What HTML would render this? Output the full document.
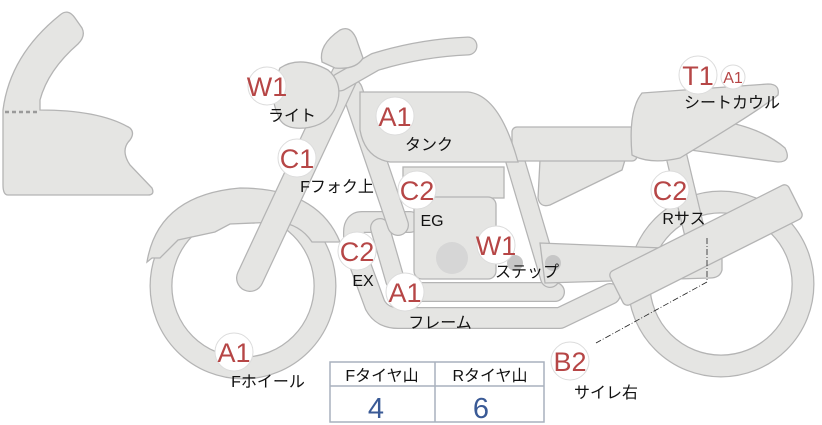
<!DOCTYPE html>
<html><head><meta charset="utf-8"><style>
html,body{margin:0;padding:0;background:#fff;width:822px;height:425px;overflow:hidden}
svg{display:block}
.s{fill:#e5e5e3;stroke:#b4b4b4;stroke-width:1.3}
.to{fill:none;stroke:#b4b4b4;stroke-linecap:round;stroke-linejoin:round}
.ti{fill:none;stroke:#e5e5e3;stroke-linecap:round;stroke-linejoin:round}
.c{fill:#fff;stroke:#dcdcdc;stroke-width:1}
.code{font-family:"Liberation Sans",sans-serif;fill:#b64646;text-anchor:middle}
.lb{font-family:"Liberation Sans","Noto Sans CJK JP",sans-serif;font-size:16px;fill:#111;text-anchor:middle}
</style></head><body>
<svg width="822" height="425" viewBox="0 0 822 425" xmlns="http://www.w3.org/2000/svg">
<path class="s" d="M60,15 Q68,8 75,18 L82,28 Q86,36 78,44 Q48,70 40,100 L40,110 Q100,110 130,128 Q135,133 130,140 Q120,150 130,165 L152,188 Q155,195 148,195 L8,195 Q3,195 3,185 L3,110 Q10,55 60,15 Z"/>
<line x1="5" y1="112" x2="38" y2="112" stroke="#9a9a9a" stroke-width="2.5" stroke-dasharray="4,3"/>
<circle cx="243" cy="286" r="82" fill="none" stroke="#b4b4b4" stroke-width="23"/>
<circle cx="243" cy="286" r="82" fill="none" stroke="#e5e5e3" stroke-width="20.5"/>
<path class="s" d="M147,262 Q158,195 240,188 Q318,188 340,242 L312,242 Q300,224 278,222 L230,224 L215,232 L178,240 L160,258 L152,258 Z"/>
<circle cx="721" cy="284" r="82" fill="none" stroke="#b4b4b4" stroke-width="23"/>
<circle cx="721" cy="284" r="82" fill="none" stroke="#e5e5e3" stroke-width="20.5"/>
<path class="to" stroke-width="22" d="M410,222 H362 Q354,222 354,232 V248 L375,305 Q382,318 398,318 H560 L610,294"/>
<path class="ti" stroke-width="19.5" d="M410,222 H362 Q354,222 354,232 V248 L375,305 Q382,318 398,318 H560 L610,294"/>
<path class="to" stroke-width="20" d="M380,228 L395,280 Q400,292 412,292 H555"/>
<path class="ti" stroke-width="17.5" d="M380,228 L395,280 Q400,292 412,292 H555"/>
<path class="to" stroke-width="22" d="M352,90 L398,225"/>
<path class="ti" stroke-width="19.5" d="M352,90 L398,225"/>
<path class="to" stroke-width="20" d="M512,150 L550,278"/>
<path class="ti" stroke-width="17.5" d="M512,150 L550,278"/>
<path class="to" stroke-width="22" d="M675,150 L700,255"/>
<path class="ti" stroke-width="19.5" d="M675,150 L700,255"/>
<rect class="s" x="403" y="167" width="101" height="31"/>
<rect class="s" x="414" y="197" width="82" height="82" rx="8"/>
<circle cx="452" cy="258" r="16" fill="#d6d6d6"/>
<path class="s" d="M540,243 L712,250 Q722,252 722,260 L722,270 Q720,278 710,278 L545,283 Z"/>
<circle cx="515" cy="263" r="8" fill="#c6c6c6"/>
<circle cx="553" cy="263" r="8" fill="#c6c6c6"/>
<g transform="rotate(-26.7 706 245)"><rect class="s" x="606" y="226" width="200" height="38" rx="5"/></g>
<path class="s" d="M540,160 L625,160 L622,170 L550,205 Q540,208 538,198 Z"/>
<rect class="s" x="512" y="127" width="125" height="34" rx="5"/>
<path class="s" d="M695,118 Q755,122 785,148 Q792,162 778,162 L690,150 Z"/>
<path class="s" d="M642,93 L768,84 Q780,84 778,95 Q760,110 680,158 Q650,165 632,155 Q628,110 642,93 Z"/>
<path class="s" d="M360,92 L468,92 Q498,95 516,155 L518,162 L390,162 Q365,158 360,130 Z"/>
<path class="to" stroke-width="28" d="M345,75 L250,278"/>
<path class="ti" stroke-width="25.5" d="M345,75 L250,278"/>
<path class="to" stroke-width="19" d="M340,82 L375,62 Q420,48 468,46"/>
<path class="ti" stroke-width="16.5" d="M340,82 L375,62 Q420,48 468,46"/>
<path class="s" d="M280,68 Q300,55 328,70 Q342,82 338,100 Q332,125 305,128 Q282,130 278,115 Q268,95 280,68 Z"/>
<path class="s" d="M340,30 Q350,25 356,38 L363,58 Q356,70 335,68 L322,62 Q318,45 340,30 Z"/>
<path d="M707,238 V282 L596,343" fill="none" stroke="#222" stroke-width="0.8" stroke-dasharray="6,2,1,2"/>
<rect x="330" y="362" width="214" height="60" fill="#fff" stroke="#a9b1bd" stroke-width="1.5"/>
<line x1="330" y1="386" x2="544" y2="386" stroke="#a9b1bd" stroke-width="1.5"/>
<line x1="435" y1="362" x2="435" y2="422" stroke="#a9b1bd" stroke-width="1.5"/>
<text class="lb" x="382" y="381">Fタイヤ山</text>
<text class="lb" x="490" y="381">Rタイヤ山</text>
<text x="376" y="418" font-family="Liberation Sans,sans-serif" font-size="29" fill="#3a5a96" text-anchor="middle">4</text>
<text x="481" y="418" font-family="Liberation Sans,sans-serif" font-size="29" fill="#3a5a96" text-anchor="middle">6</text>
<g>
<circle class="c" cx="267" cy="86" r="19"/><text class="code" x="267" y="96" font-size="27">W1</text><text class="lb" x="292" y="121">ライト</text>
<circle class="c" cx="395" cy="116" r="19"/><text class="code" x="395" y="126" font-size="27">A1</text><text class="lb" x="429" y="150">タンク</text>
<circle class="c" cx="297" cy="158" r="19"/><text class="code" x="297" y="168" font-size="27">C1</text><text class="lb" x="337" y="192">Fフォク上</text>
<circle class="c" cx="417" cy="190" r="19"/><text class="code" x="417" y="200" font-size="27">C2</text><text class="lb" x="432" y="226">EG</text>
<circle class="c" cx="357" cy="251" r="19"/><text class="code" x="357" y="261" font-size="27">C2</text><text class="lb" x="363" y="286">EX</text>
<circle class="c" cx="496" cy="245" r="19"/><text class="code" x="496" y="255" font-size="27">W1</text><text class="lb" x="527" y="277">ステップ</text>
<circle class="c" cx="405" cy="292" r="19"/><text class="code" x="405" y="302" font-size="27">A1</text><text class="lb" x="440" y="328">フレーム</text>
<circle class="c" cx="234" cy="352" r="19"/><text class="code" x="234" y="362" font-size="27">A1</text><text class="lb" x="268" y="387">Fホイール</text>
<circle class="c" cx="698" cy="75" r="19"/><text class="code" x="698" y="85" font-size="27">T1</text>
<circle class="c" cx="733" cy="77" r="12"/><text class="code" x="733" y="83" font-size="16">A1</text>
<text class="lb" x="732" y="108">シートカウル</text>
<circle class="c" cx="670" cy="190" r="19"/><text class="code" x="670" y="200" font-size="27">C2</text><text class="lb" x="684" y="224">Rサス</text>
<circle class="c" cx="570" cy="361" r="19"/><text class="code" x="570" y="371" font-size="27">B2</text><text class="lb" x="606" y="398">サイレ右</text>
</g>
</svg>
</body></html>
